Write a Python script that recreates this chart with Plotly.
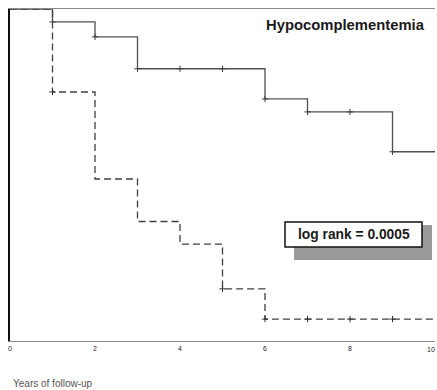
import numpy as np
import plotly.graph_objects as go

# Kaplan-Meier step curves (years of follow-up vs. survival proportion)
normal_times = [0, 1, 2, 3, 6, 7, 9, 10]
normal_surv = [1.0, 0.961, 0.916, 0.82, 0.729, 0.69, 0.57, 0.57]
normal_censor = [1, 2, 3, 4, 5, 6, 7, 8, 9]

hypo_times = [0, 1, 2, 3, 4, 5, 6, 10]
hypo_surv = [1.0, 0.75, 0.488, 0.36, 0.292, 0.157, 0.066, 0.066]
hypo_censor = [1, 5, 6, 7, 8, 9]

x_ticks = [0, 2, 4, 6, 8, 10]
x_tick_text = ["0", "2", "4", "6", "8", "10"]


def step_value(times, surv, t):
    idx = np.searchsorted(times, t, side="right") - 1
    return surv[idx]


W, H = 437, 390
L, R, T, B = 10, 435, 9, 341


def px(x):
    return (x - L) / (R - L)


def py(y):
    return (B - y) / (B - T)


tick_font = dict(family="Liberation Sans, Arial", size=7, color="#222222")

fig = go.Figure()

fig.add_trace(go.Scatter(
    x=normal_times, y=normal_surv, mode="lines", line_shape="hv",
    line=dict(color="#505050", width=1.3), hoverinfo="skip", showlegend=False))
fig.add_trace(go.Scatter(
    x=normal_censor, y=[step_value(normal_times, normal_surv, t) for t in normal_censor],
    mode="markers", marker=dict(symbol="cross-thin", size=4.5,
                                line=dict(color="#404040", width=1)),
    hoverinfo="skip", showlegend=False))

fig.add_trace(go.Scatter(
    x=hypo_times, y=hypo_surv, mode="lines", line_shape="hv",
    line=dict(color="#404040", width=1.3, dash="7px,4px"), hoverinfo="skip", showlegend=False))
fig.add_trace(go.Scatter(
    x=hypo_censor, y=[step_value(hypo_times, hypo_surv, t) for t in hypo_censor],
    mode="markers", marker=dict(symbol="cross-thin", size=4.5,
                                line=dict(color="#303030", width=1)),
    hoverinfo="skip", showlegend=False))

# log-rank box with drop shadow
fig.add_shape(type="rect", xref="paper", yref="paper",
              x0=px(294), x1=px(432), y0=py(260), y1=py(225),
              fillcolor="#9a9a9a", line=dict(width=0), layer="above")
fig.add_shape(type="rect", xref="paper", yref="paper",
              x0=px(285), x1=px(422), y0=py(247), y1=py(222),
              fillcolor="white", line=dict(color="#111111", width=1.5), layer="above")
fig.add_annotation(xref="paper", yref="paper", x=(px(285) + px(422)) / 2,
                   y=(py(247) + py(222)) / 2, text="<b>log rank = 0.0005</b>",
                   showarrow=False, xanchor="center", yanchor="middle",
                   font=dict(family="Liberation Sans, Arial", size=13.8, color="#1a1a1a"))

fig.add_annotation(xref="paper", yref="paper", x=px(427), y=py(25),
                   text="<b>Hypocomplementemia</b>", showarrow=False,
                   xanchor="right", yanchor="middle",
                   font=dict(family="Liberation Sans, Arial", size=14.8, color="#1a1a1a"))

fig.add_annotation(xref="paper", yref="paper", x=px(11), y=py(383),
                   text="Years of follow-up", showarrow=False,
                   xanchor="left", yanchor="middle",
                   font=dict(family="Liberation Sans, Arial", size=10, color="#555555"))

# last tick label sits at the page edge, so it is right-aligned to stay visible
fig.add_annotation(xref="x", yref="paper", x=x_ticks[-1], y=py(350),
                   text=x_tick_text[-1], showarrow=False,
                   xanchor="right", yanchor="middle", xshift=1.5,
                   font=tick_font)

fig.update_layout(
    width=W, height=H,
    margin=dict(l=L, r=W - R, t=T, b=H - B),
    paper_bgcolor="white", plot_bgcolor="white",
    xaxis=dict(range=[0, 10], tickvals=x_ticks[:-1], ticktext=x_tick_text[:-1],
               showgrid=False, zeroline=False, showline=True, mirror=True,
               linecolor="#8a8a8a", linewidth=1.2, ticks="",
               automargin=False, tickfont=tick_font),
    yaxis=dict(range=[0, 1], showticklabels=False, showgrid=False, zeroline=False,
               showline=True, linecolor="#111111", linewidth=1.5, ticks="",
               automargin=False),
)

fig.write_html("out.html")
